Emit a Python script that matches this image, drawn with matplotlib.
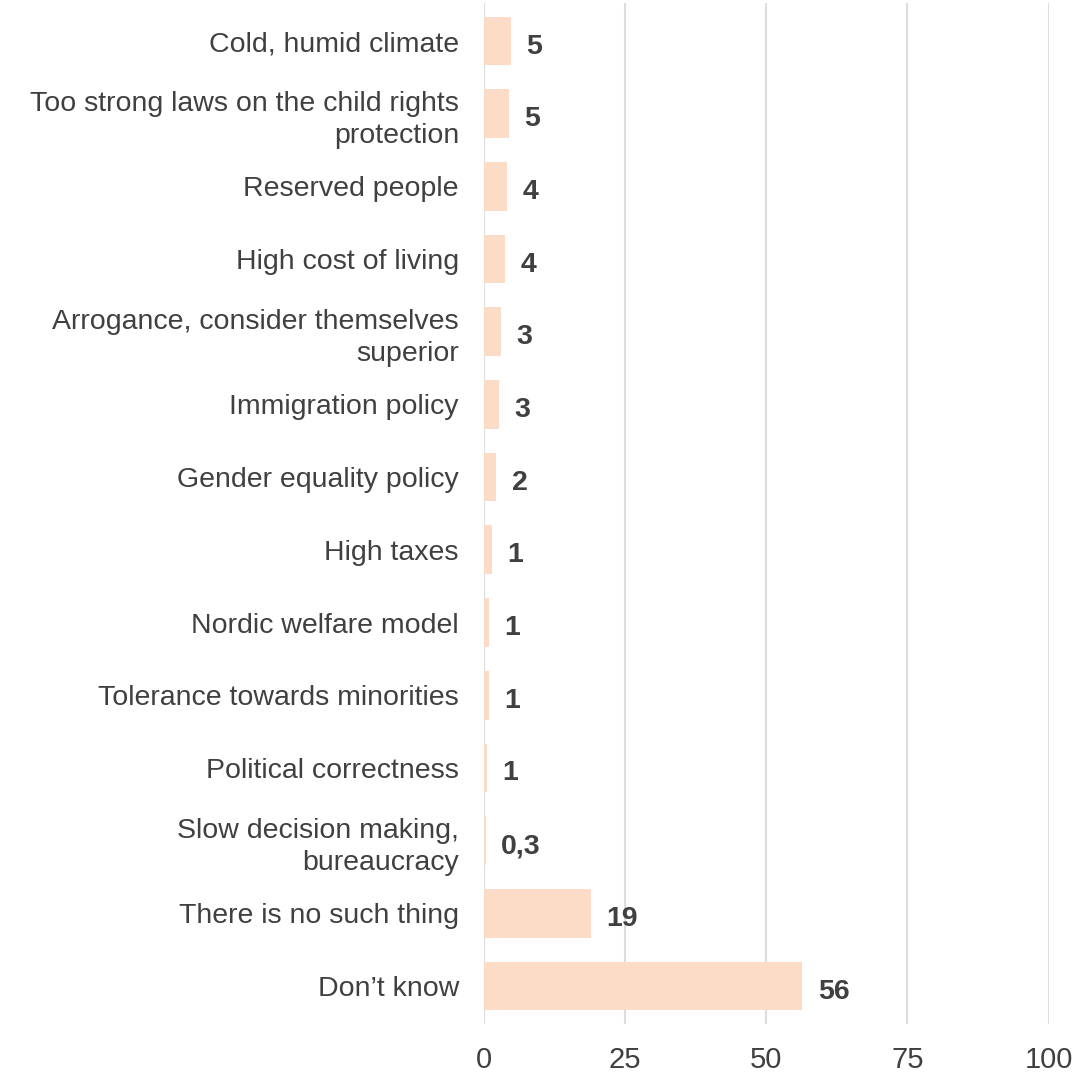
import matplotlib
matplotlib.use("Agg")
import matplotlib.pyplot as plt

plt.rcParams['font.family'] = ['Liberation Sans', 'DejaVu Sans']

categories = [
    "Cold, humid climate",
    "Too strong laws on the child rights\nprotection",
    "Reserved people",
    "High cost of living",
    "Arrogance, consider themselves\nsuperior",
    "Immigration policy",
    "Gender equality policy",
    "High taxes",
    "Nordic welfare model",
    "Tolerance towards minorities",
    "Political correctness",
    "Slow decision making,\nbureaucracy",
    "There is no such thing",
    "Don\u2019t know",
]
values = [4.8, 4.5, 4.1, 3.7, 3.1, 2.6, 2.2, 1.4, 0.9, 0.85, 0.6, 0.3, 19.0, 56.4]
xticks = [0, 25, 50, 75, 100]

bar_color = "#FCDCC7"
text_color = "#404040"
grid_color = "#DDDDDD"


def fmt(v):
    if v < 0.5:
        return f"{v:.1f}".replace(".", ",")
    return str(int(v + 0.5))


fig = plt.figure(figsize=(10.91, 10.72), dpi=100)
ax = fig.add_axes([0.4436, 0.045, 0.5175, 0.952])

ypos = list(range(len(categories)))
ax.barh(ypos, values, height=0.67, color=bar_color, zorder=2)
ax.set_ylim(len(categories) - 0.5 + 0.02, -0.5 - 0.02)
ax.set_xlim(0, 100)

for y, v in zip(ypos, values):
    ax.annotate(fmt(v), xy=(v, y), xytext=(11, -4), textcoords="offset points",
                ha="left", va="center", fontsize=20.5, fontweight="bold",
                color=text_color)

ax.set_yticks(ypos)
ax.set_yticklabels(categories, fontsize=20.5, color=text_color, linespacing=1.3)
ax.set_xticks(xticks)
ax.set_xticklabels([str(t) for t in xticks], fontsize=21, color=text_color)
ax.tick_params(axis="y", length=0, pad=18)
ax.tick_params(axis="x", length=0, pad=16)
for lbl in ax.get_yticklabels():
    lbl.set_horizontalalignment("right")
    lbl.set_multialignment("right")

ax.xaxis.grid(True, color=grid_color, linewidth=1.5, zorder=1)
ax.set_axisbelow(True)
for s in ax.spines.values():
    s.set_visible(False)

fig.savefig("out.png", dpi=100, facecolor="white")
